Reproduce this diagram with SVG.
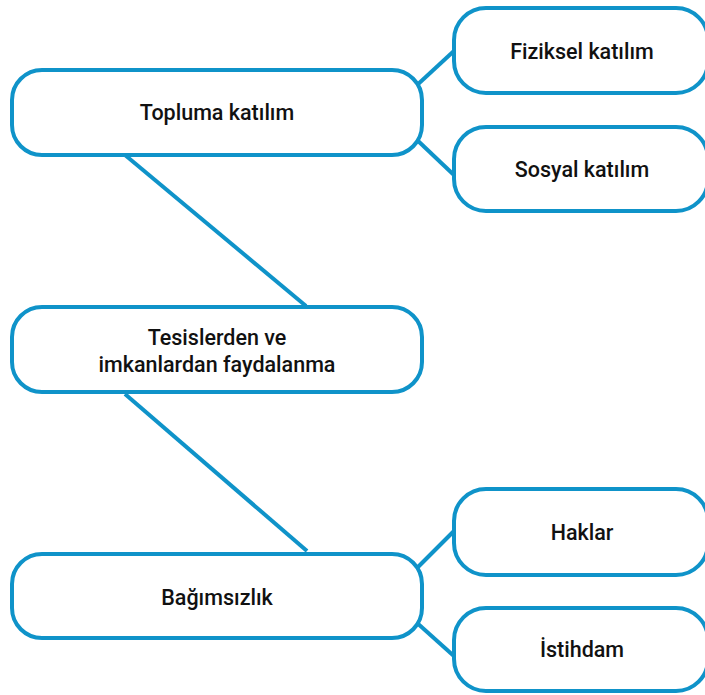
<svg xmlns="http://www.w3.org/2000/svg" width="705" height="695" viewBox="0 0 705 695">
  <style>
    .box { fill: #ffffff; stroke: #0f93c9; stroke-width: 4; }
    .link { stroke: #0f93c9; stroke-width: 4; fill: none; }
    .label { font-family: Roboto, "Liberation Sans", sans-serif; font-size: 21.5px; font-weight: 500; fill: #111111; text-anchor: middle; }
  </style>
  <rect width="705" height="695" fill="#ffffff"/>
  <g id="connectors">
    <line class="link" x1="125" y1="155" x2="306" y2="306"/>
    <line class="link" x1="125" y1="394" x2="307" y2="551"/>
    <line class="link" x1="416" y1="86" x2="455" y2="50"/>
    <line class="link" x1="416" y1="139" x2="455" y2="176"/>
    <line class="link" x1="416" y1="569" x2="455" y2="530"/>
    <line class="link" x1="416" y1="622" x2="455" y2="657"/>
  </g>
  <g id="node-topluma">
    <rect class="box" x="12" y="70" width="410" height="85" rx="30"/>
    <text class="label" x="217" y="120">Topluma katılım</text>
  </g>
  <g id="node-fiziksel">
    <rect class="box" x="454" y="8" width="254" height="85" rx="32"/>
    <text class="label" x="582" y="59">Fiziksel katılım</text>
  </g>
  <g id="node-sosyal">
    <rect class="box" x="454" y="127" width="254" height="84" rx="32"/>
    <text class="label" x="582" y="177">Sosyal katılım</text>
  </g>
  <g id="node-tesisler">
    <rect class="box" x="12" y="307" width="410" height="85" rx="30"/>
    <text class="label" x="217" y="345">Tesislerden ve</text>
    <text class="label" x="217" y="372">imkanlardan faydalanma</text>
  </g>
  <g id="node-bagimsizlik">
    <rect class="box" x="12" y="554" width="410" height="84" rx="30"/>
    <text class="label" x="217" y="605">Bağımsızlık</text>
  </g>
  <g id="node-haklar">
    <rect class="box" x="454" y="489" width="254" height="86" rx="32"/>
    <text class="label" x="582" y="540">Haklar</text>
  </g>
  <g id="node-istihdam">
    <rect class="box" x="454" y="608" width="254" height="83" rx="32"/>
    <text class="label" x="582" y="657">İstihdam</text>
  </g>
</svg>
